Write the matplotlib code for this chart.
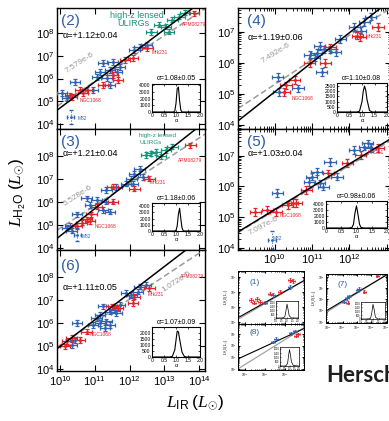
import numpy as np
import matplotlib.pyplot as plt
from matplotlib.ticker import NullFormatter, FixedLocator

W, H = 389, 421
plt.rcParams['font.family'] = ['Liberation Sans', 'DejaVu Sans']
plt.rcParams['mathtext.fontset'] = 'custom'
plt.rcParams['mathtext.rm'] = 'Liberation Sans'
plt.rcParams['mathtext.sf'] = 'Liberation Sans'
plt.rcParams['mathtext.it'] = 'Liberation Serif:italic'
plt.rcParams['mathtext.bf'] = 'Liberation Sans:bold'

BLUE = '#2f64b4'
RED = '#e3242b'
GREEN = '#17957c'
GRAY = '#9a9a9a'
LBLUE = '#2d5ca6'

# ---- values: log10 L_IR, log10 L_H2O ----
# panel (2)
p2_blue_x = [12.29, 12.49, 12.14, 11.23, 11.51, 11.43, 11.14, 11.63, 11.06, 11.34, 11.71, 11.43, 10.43, 10.94, 10.20, 10.06]
p2_blue_y = [7.38, 7.47, 7.25, 6.68, 6.73, 6.37, 6.29, 6.29, 6.07, 6.02, 6.50, 5.71, 5.85, 5.50, 5.14, 5.36]
p2_red_x = [12.51, 12.09, 11.86, 11.51, 11.66, 11.23, 10.29, 10.57, 10.77, 10.66, 10.34, 13.85]
p2_red_y = [7.34, 6.90, 6.81, 6.15, 5.93, 5.71, 5.27, 5.50, 5.50, 5.36, 5.19, 8.85]
p2_green_x = [12.63, 12.86, 13.05, 13.23, 13.43, 13.14, 13.60]
p2_green_y = [8.04, 8.35, 8.27, 8.57, 8.70, 8.05, 8.88]
p2_m82 = [10.31, 4.31]

# panel (3)
p3_blue_x = [12.29, 12.14, 12.38, 12.05, 11.90, 12.09, 11.62, 11.33, 10.76, 11.05, 11.33, 10.86, 11.24, 11.43, 10.48, 10.29, 10.19, 10.33]
p3_blue_y = [7.44, 7.22, 7.08, 7.00, 6.79, 6.79, 6.64, 6.50, 6.14, 6.07, 6.00, 5.86, 5.64, 5.57, 5.45, 4.95, 4.87, 4.74]
p3_red_x = [12.57, 12.14, 11.51, 11.05, 11.52, 10.90, 10.76, 10.62, 10.86, 10.48, 13.75]
p3_red_y = [7.00, 6.57, 6.65, 5.79, 6.00, 5.45, 5.23, 5.09, 5.16, 4.95, 8.45]
p3_green_x = [12.48, 12.76, 13.05, 13.23, 12.90, 12.62]
p3_green_y = [8.03, 8.17, 8.24, 8.39, 7.97, 8.10]
p3_m82 = [10.50, 4.57]

# panel (6)
p6_blue_x = [12.29, 12.48, 12.05, 11.90, 12.24, 11.71, 11.57, 11.24, 11.43, 11.14, 11.62, 11.05, 11.33, 11.14, 11.43, 10.95, 11.29, 10.48, 10.43, 10.33]
p6_blue_y = [7.58, 7.65, 7.22, 7.29, 7.36, 6.78, 6.57, 6.71, 6.49, 6.35, 6.42, 6.20, 6.06, 5.99, 5.91, 5.91, 5.77, 5.99, 5.26, 5.04]
p6_red_x = [12.57, 12.14, 12.09, 11.48, 11.67, 10.76, 10.33, 10.57, 10.19, 10.14]
p6_red_y = [7.51, 7.14, 6.86, 6.71, 6.64, 5.62, 5.33, 5.26, 5.19, 4.97]

# panel (4)
p4_blue_x = [12.58, 12.40, 12.13, 12.31, 11.76, 11.20, 11.31, 11.12, 11.07, 11.48, 11.63, 10.94, 11.26, 10.08, 10.62, 10.11]
p4_blue_y = [7.49, 7.32, 7.16, 7.04, 6.77, 6.54, 6.44, 6.33, 6.17, 6.44, 6.34, 6.27, 5.71, 5.55, 5.18, 5.06]
p4_red_x = [12.22, 12.30, 12.77, 11.48, 10.94, 11.35, 10.53, 10.30, 10.25]
p4_red_y = [6.88, 6.83, 7.16, 6.50, 6.00, 6.00, 5.45, 5.28, 5.06]

# panel (5)
p5_blue_x = [12.40, 12.49, 12.13, 12.58, 11.48, 11.12, 10.99, 11.20, 11.30, 10.93, 11.67, 10.07]
p5_blue_y = [7.29, 7.40, 7.19, 7.25, 6.80, 6.48, 6.32, 6.10, 5.99, 6.15, 6.32, 5.78]
p5_red_x = [12.77, 12.31, 11.95, 11.44, 10.85, 10.48, 10.35, 9.48, 9.80, 10.03, 10.58]
p5_red_y = [7.25, 7.02, 6.76, 6.43, 5.88, 5.46, 5.39, 5.17, 5.23, 5.17, 5.46]
p5_m82 = [9.92, 4.25]

# fits: (slope, log L_H2O at log L_IR = 10) for solid fit and dashed ratio line
p2_fit, p2_dash = (1.14, 4.72), (1.00, 4.88)
p3_fit, p3_dash = (1.19, 4.51), (0.98, 4.85)
p6_fit, p6_dash = (1.16, 4.97), (1.00, 5.03)
p4_fit, p4_dash = (0.95, 5.07), (0.79, 5.31)
p5_fit, p5_dash = (0.74, 5.25), (0.73, 5.22)

# alpha posterior histograms (alpha, counts)
p2_hist_a = [0.0, 0.90, 0.95, 1.00, 1.05, 1.10, 1.15, 1.20, 1.25, 2.0]
p2_hist_n = [0, 0, 150, 1300, 3500, 3750, 1700, 300, 0, 0]
p3_hist_a = [0.0, 0.95, 1.00, 1.05, 1.10, 1.15, 1.20, 1.25, 1.30, 1.35, 1.40, 2.0]
p3_hist_n = [0, 0, 100, 800, 2700, 3650, 2000, 500, 50, 0, 0, 0]
p6_hist_a = [0.0, 0.75, 0.85, 0.95, 1.00, 1.05, 1.10, 1.15, 1.25, 1.35, 1.45, 2.0]
p6_hist_n = [0, 0, 60, 600, 1400, 2150, 2100, 1500, 400, 40, 0, 0]
p4_hist_a = [0.0, 0.80, 0.90, 1.00, 1.05, 1.10, 1.15, 1.20, 1.30, 1.40, 2.0]
p4_hist_n = [0, 0, 80, 1000, 2000, 2500, 2100, 1200, 150, 0, 0]
p5_hist_a = [0.0, 0.75, 0.85, 0.90, 0.95, 1.00, 1.05, 1.10, 1.15, 1.25, 2.0]
p5_hist_n = [0, 0, 80, 600, 2500, 3700, 2200, 600, 80, 0, 0]

# small panels (1), (8), (7)
s1_blue_x = [11.00, 11.40, 12.25]
s1_blue_y = [5.30, 5.80, 6.35]
s1_red_x = [10.30, 10.45, 10.60, 10.75, 11.25, 11.75, 12.25, 12.40]
s1_red_y = [5.45, 5.30, 5.55, 5.35, 5.89, 5.99, 6.80, 6.75]
s8_blue_x = [11.40, 11.55, 12.30, 12.50]
s8_blue_y = [6.30, 6.60, 7.05, 7.25]
s8_red_x = [12.55, 12.65]
s8_red_y = [6.85, 7.00]
s7_blue_x = [11.10, 11.30, 11.45, 12.05, 12.15]
s7_blue_y = [5.80, 6.10, 6.30, 6.80, 6.95]
s7_red_x = [11.35, 12.50, 13.40]
s7_red_y = [5.70, 6.70, 8.10]
s1_fit, s1_dash = (0.75, 4.55), (0.78, 4.45)
s8_fit, s8_dash = (0.79, 5.13), (1.07, 4.37)
s7_fit, s7_dash = (0.77, 5.08), (0.80, 4.95)
s_hist_a = [0.0, 0.6, 0.8, 0.9, 1.0, 1.1, 1.2, 1.4, 2.0]
s1_hist_n = [0, 0, 150, 900, 1800, 1100, 300, 0, 0]
s8_hist_n = [0, 0, 300, 1200, 1900, 1300, 500, 50, 0]
s7_hist_n = [0, 0, 100, 800, 1900, 1200, 250, 0, 0]


def lg(v):
    return 10.0 ** np.asarray(v, dtype=float)


def errs(v, e):
    v = np.atleast_1d(np.asarray(v, dtype=float))
    return [10 ** v - 10 ** (v - e), 10 ** (v + e) - 10 ** v]


def box(x0, y0, x1, y1):
    return [x0 / W, 1 - y1 / H, (x1 - x0) / W, (y1 - y0) / H]


def T(x, y, s, **kw):
    kw.setdefault('va', 'center')
    fig.text(x / W, 1 - y / H, s, **kw)


def points(ax, xs, ys, color, ex=0.15, ey=0.12, lw=0.9, cap=1.6, ms=1.2):
    ax.errorbar(lg(xs), lg(ys), xerr=errs(xs, ex), yerr=errs(ys, ey), fmt='o', ms=ms,
                color=color, ecolor=color, elinewidth=lw, capsize=cap, capthick=lw, zorder=3)


def m82(ax, xy):
    eb = ax.errorbar(lg([xy[0]]), lg([xy[1]]), xerr=errs(xy[0], 0.1), yerr=errs(xy[1], 0.3),
                     fmt='o', ms=1, color=BLUE, elinewidth=0.8, capsize=1.2)
    for c in eb[2]:
        c.set_linestyle(':')


def lines(ax, xlim, fit, dash, lw=1.1):
    xx = np.array(xlim)
    ax.plot(lg(xx), lg(dash[1] + dash[0] * (xx - 10)), color=GRAY, lw=lw, dashes=(4, 2), zorder=2)
    ax.plot(lg(xx), lg(fit[1] + fit[0] * (xx - 10)), color='k', lw=lw, zorder=4)


def setup(ax, xlim, ylim, xt, yt, xlab, labsize=8, maj=4, mnr=2):
    ax.set_xscale('log')
    ax.set_yscale('log')
    ax.set_xlim(lg(xlim))
    ax.set_ylim(lg(ylim))
    ax.xaxis.set_major_locator(FixedLocator(lg(xt)))
    ax.yaxis.set_major_locator(FixedLocator(lg(yt)))
    ax.xaxis.set_minor_formatter(NullFormatter())
    ax.yaxis.set_minor_formatter(NullFormatter())
    if not xlab:
        ax.xaxis.set_major_formatter(NullFormatter())
    ax.tick_params(which='both', direction='in', top=True, right=True, labelsize=labsize, pad=2)
    ax.tick_params(which='major', length=maj, width=0.8)
    ax.tick_params(which='minor', length=mnr, width=0.6)
    for s in ax.spines.values():
        s.set_linewidth(1.0)


def inset(rect, a, n, ymax, yt, fs=3.6):
    ax = fig.add_axes(box(*rect))
    ax.plot(a, n, color='k', lw=0.8)
    ax.set_xlim(0, 2.0)
    ax.set_ylim(0, ymax)
    ax.set_xticks([0, 0.5, 1.0, 1.5, 2.0])
    ax.set_xticklabels(['0', '0.5', '1.0', '1.5', '2.0'])
    ax.set_yticks(yt)
    ax.tick_params(direction='in', labelsize=fs, length=1.5, width=0.5, pad=1, top=True, right=True)
    ax.set_xlabel('α', fontsize=fs + 0.5, labelpad=0)
    for s in ax.spines.values():
        s.set_linewidth(0.8)
    return ax


fig = plt.figure(figsize=(W / 100, H / 100), dpi=100)

LX = (9.91, 14.17)
RX = (9.01, 13.12)

# ----- left column -----
ax2 = fig.add_axes(box(57, 8, 205, 129))
setup(ax2, LX, (3.80, 9.08), [10, 11, 12, 13, 14], [4, 5, 6, 7, 8], False)
lines(ax2, LX, p2_fit, p2_dash)
points(ax2, p2_green_x, p2_green_y, GREEN)
points(ax2, p2_blue_x, p2_blue_y, BLUE)
points(ax2, p2_red_x, p2_red_y, RED)
m82(ax2, p2_m82)

ax3 = fig.add_axes(box(57, 129, 205, 250))
setup(ax3, LX, (3.90, 9.16), [10, 11, 12, 13, 14], [4, 5, 6, 7, 8], False)
lines(ax3, LX, p3_fit, p3_dash)
points(ax3, p3_green_x, p3_green_y, GREEN)
points(ax3, p3_blue_x, p3_blue_y, BLUE)
points(ax3, p3_red_x, p3_red_y, RED)
m82(ax3, p3_m82)

ax6 = fig.add_axes(box(57, 250, 205, 371))
setup(ax6, LX, (3.90, 9.17), [10, 11, 12, 13, 14], [4, 5, 6, 7, 8], True)
lines(ax6, LX, p6_fit, p6_dash)
points(ax6, p6_blue_x, p6_blue_y, BLUE)
points(ax6, p6_red_x, p6_red_y, RED)

# ----- right column -----
ax4 = fig.add_axes(box(238, 8, 391, 129))
setup(ax4, RX, (3.87, 7.77), [9, 10, 11, 12, 13], [4, 5, 6, 7], False)
lines(ax4, RX, p4_fit, p4_dash)
points(ax4, p4_blue_x, p4_blue_y, BLUE)
points(ax4, p4_red_x, p4_red_y, RED)

ax5 = fig.add_axes(box(238, 129, 391, 250))
setup(ax5, RX, (3.93, 7.87), [9, 10, 11, 12, 13], [4, 5, 6, 7], True)
ax5.set_xticklabels(['', r'$10^{10}$', r'$10^{11}$', r'$10^{12}$', ''])
lines(ax5, RX, p5_fit, p5_dash)
points(ax5, p5_blue_x, p5_blue_y, BLUE)
points(ax5, p5_red_x, p5_red_y, RED)
m82(ax5, p5_m82)

# ----- insets -----
inset((152, 84, 200, 112), p2_hist_a, p2_hist_n, 4200, [0, 1000, 2000, 3000, 4000])
inset((152, 203, 200, 231), p3_hist_a, p3_hist_n, 4500, [0, 1000, 2000, 3000, 4000])
inset((152, 327, 200, 357), p6_hist_a, p6_hist_n, 2500, [0, 500, 1000, 1500, 2000])
inset((337, 83, 387, 112), p4_hist_a, p4_hist_n, 2800, [0, 500, 1000, 1500, 2000, 2500])
inset((326, 201, 387, 228), p5_hist_a, p5_hist_n, 4500, [0, 1000, 2000, 3000, 4000])


# ----- small panels -----
def small(rect, xlim, ylim, xt, yt, xlab, bx, by, rx, ry, fit, dash, hrect, hn):
    ax = fig.add_axes(box(*rect))
    setup(ax, xlim, ylim, xt, yt, xlab, labsize=2.3, maj=1.5, mnr=0.8)
    ax.tick_params(pad=1)
    for s in ax.spines.values():
        s.set_linewidth(0.7)
    xx = np.array(xlim)
    ax.plot(lg(xx), lg(dash[1] + dash[0] * (xx - 10)), color=GRAY, lw=0.8)
    ax.plot(lg(xx), lg(fit[1] + fit[0] * (xx - 10)), color='k', lw=0.8)
    points(ax, bx, by, BLUE, ex=0.12, ey=0.12, lw=0.6, cap=0.8, ms=0.6)
    points(ax, rx, ry, RED, ex=0.12, ey=0.12, lw=0.6, cap=0.8, ms=0.6)
    ia = fig.add_axes(box(*hrect))
    ia.plot(s_hist_a, hn, color='k', lw=0.5)
    ia.set_xlim(0, 2.0)
    ia.set_ylim(0, 2200)
    ia.set_xticks([0, 0.5, 1.0, 1.5, 2.0])
    ia.set_yticks([0, 500, 1000, 1500, 2000])
    ia.tick_params(direction='in', labelsize=1.8, length=0.8, width=0.4, pad=0.5)
    for s in ia.spines.values():
        s.set_linewidth(0.5)
    return ax


small((238, 271, 304, 324), (9.65, 12.95), (3.87, 7.4), [10, 11, 12], [4, 5, 6, 7], False,
      s1_blue_x, s1_blue_y, s1_red_x, s1_red_y, s1_fit, s1_dash, (276, 301, 298, 318), s1_hist_n)
small((238, 324, 304, 370), (9.65, 12.95), (3.90, 7.85), [10, 11, 12], [4, 5, 6, 7], True,
      s8_blue_x, s8_blue_y, s8_red_x, s8_red_y, s8_fit, s8_dash, (280, 347, 299, 366), s8_hist_n)
small((326, 274, 387, 323), (9.86, 14.07), (3.90, 8.27), [10, 11, 12, 13, 14], [4, 5, 6, 7, 8], True,
      s7_blue_x, s7_blue_y, s7_red_x, s7_red_y, s7_fit, s7_dash, (361, 302, 385, 319), s7_hist_n)

# ----- texts -----
kw_small = dict(fontsize=3.5, ha='left')
T(61, 21, '(2)', color=LBLUE, fontsize=11)
T(63, 35, 'α=+1.12±0.04', fontsize=6.5)
T(110, 16, 'high-z lensed', color=GREEN, fontsize=6.5)
T(117, 24, 'ULIRGs', color=GREEN, fontsize=6.5)
T(182, 25, 'APM08279', color=RED, **kw_small)
T(152, 53, 'Mrk231', color=RED, **kw_small)
T(80, 101, 'NGC1068', color=RED, **kw_small)
T(78, 118, 'M82', color=BLUE, **kw_small)
T(80, 63, '7.579e-6', color=GRAY, fontsize=6, rotation=33, ha='center')
T(176, 79, 'α=1.08±0.05', fontsize=5, ha='center')

T(61, 142, '(3)', color=LBLUE, fontsize=11)
T(63, 154, 'α=+1.21±0.04', fontsize=6.5)
T(139, 136, 'high-z lensed', color=GREEN, fontsize=4.5)
T(139, 143, 'ULIRGs', color=GREEN, fontsize=4.5)
T(178, 161, 'APM08279', color=RED, **kw_small)
T(150, 182, 'Mrk231', color=RED, **kw_small)
T(95, 226, 'NGC1068', color=RED, **kw_small)
T(82, 237, 'M82', color=BLUE, **kw_small)
T(78, 196, '5.528e-6', color=GRAY, fontsize=6, rotation=33, ha='center')
T(176, 199, 'α=1.18±0.06', fontsize=5, ha='center')

T(61, 266, '(6)', color=LBLUE, fontsize=11)
T(63, 287, 'α=+1.11±0.05', fontsize=6.5)
T(180, 277, 'APM08279', color=RED, **kw_small)
T(148, 295, 'Mrk231', color=RED, **kw_small)
T(90, 335, 'NGC1068', color=RED, **kw_small)
T(176, 282, '1.072e-5', color=GRAY, fontsize=6, rotation=33, ha='center')
T(176, 322, 'α=1.07±0.09', fontsize=5, ha='center')

T(247, 21, '(4)', color=LBLUE, fontsize=11)
T(248, 37, 'α=+1.19±0.06', fontsize=6.5)
T(366, 37, 'Mrk231', color=RED, **kw_small)
T(292, 98, 'NGC1068', color=RED, **kw_small)
T(276, 53, '7.492e-6', color=GRAY, fontsize=6, rotation=32, ha='center')
T(361, 78, 'α=1.10±0.08', fontsize=5, ha='center')

T(247, 142, '(5)', color=LBLUE, fontsize=11)
T(248, 154, 'α=+1.03±0.04', fontsize=6.5)
T(368, 152, 'Mrk231', color=RED, **kw_small)
T(280, 215, 'NGC1068', color=RED, **kw_small)
T(273, 239, 'M82', color=BLUE, **kw_small)
T(263, 226, '7.097e-6', color=GRAY, fontsize=6, rotation=28, ha='center')
T(356, 196, 'α=0.98±0.06', fontsize=5, ha='center')

T(250, 282, '(1)', color=LBLUE, fontsize=6)
T(250, 332, '(8)', color=LBLUE, fontsize=6)
T(338, 284, '(7)', color=LBLUE, fontsize=6)
for (x, y) in [(226, 297), (226, 347), (314, 298)]:
    T(x, y, r'$L_{\mathsf{H_2O}}\,(L_{\odot})$', fontsize=2.8, rotation=90, ha='center')

T(18, 192, r'$L_{\mathsf{H_2O}}\;(L_{\odot})$', fontsize=12.5, rotation=90, ha='center')
T(195, 403, r'$L_{\mathsf{IR}}\;(L_{\odot})$', fontsize=12.5, ha='center')
T(326, 376, 'Herschel', fontsize=16, fontweight='bold', family='Lato', color='#1e1e1e', ha='left')

fig.savefig('out.png', dpi=100)
